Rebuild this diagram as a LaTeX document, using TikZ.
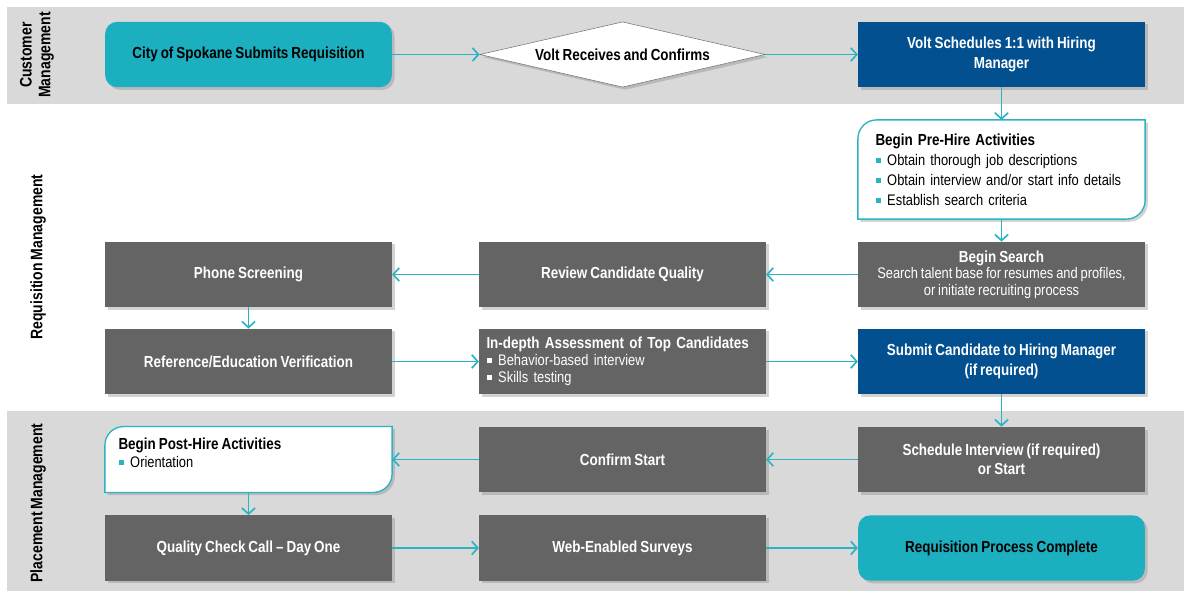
\documentclass[tikz,border=0pt]{standalone}
\usepackage{fontspec}
\setmainfont{Liberation Sans}[FakeStretch=0.84, WordSpace=0.8]
\usetikzlibrary{arrows.meta,shapes.geometric,shadows,positioning}

\definecolor{bandgray}{HTML}{D9D9D9}
\definecolor{voltteal}{HTML}{1CAFBF}
\definecolor{voltblue}{HTML}{02508F}
\definecolor{boxgray}{HTML}{646464}
\definecolor{flowteal}{HTML}{2BB3C3}

\newcommand{\sqbullet}[1]{\textcolor{#1}{\rule[1.8pt]{3.8pt}{3.8pt}}\hspace{5pt}}
\newcommand{\boxhead}{\fontsize{12}{12.5}\selectfont\bfseries}
\newcommand{\boxbody}{\fontsize{11.5}{12.5}\selectfont\mdseries}

\begin{document}
\begin{tikzpicture}[x=0.75pt, y=0.75pt,
  gray node/.style={rectangle, fill=boxgray, text=white, font=\fontsize{12}{14.5}\selectfont\bfseries, minimum width=215pt, minimum height=49pt, align=center, inner sep=2pt, drop shadow={opacity=0.35, shadow xshift=2pt, shadow yshift=-2pt}},
  blue node/.style={gray node, fill=voltblue},
  teal node/.style={gray node, fill=voltteal, text=black, rounded corners=9pt},
  open node/.style={rectangle, minimum width=215pt, inner sep=0pt},
  open line/.style={draw=flowteal, line width=1pt, fill=white, drop shadow={opacity=0.35, shadow xshift=2pt, shadow yshift=-2pt}},
  flow/.style={draw=flowteal, line width=1.25pt, -{Straight Barb[length=4.5pt,width=10pt]}},
  lane label/.style={rotate=90, font=\fontsize{12.5}{14}\selectfont\bfseries, align=center}]

\useasboundingbox (0,0) rectangle (1184,593);

% lanes
\fill[bandgray] (7,489) rectangle (1184,586);
\fill[bandgray] (7,2) rectangle (1184,182);

\node[lane label] (lane1) at (37,538) {Customer\\Management};
\node[lane label] (lane2) at (38,336) {Requisition Management};
\node[lane label] (lane3) at (38,90) {Placement Management};

% customer management
\node[teal node] (city) at (248.5,538.5) {City of Spokane Submits Requisition};
\node[diamond, aspect=4.4, draw=black!55, fill=white, minimum width=214pt, minimum height=49pt, inner sep=0pt, font=\fontsize{12}{15}\selectfont\bfseries, drop shadow={opacity=0.35, shadow xshift=2pt, shadow yshift=-2pt}] (receive) at (622.5,538.5) {Volt Receives and Confirms};
\node[blue node] (oneone) at (1001.5,538.5) {Volt Schedules 1:1 with Hiring\\Manager};

% requisition management
\node[open node, minimum height=74pt] (prehire) at (1001.5,423.5) {};
\draw[open line] ([yshift=-14pt]prehire.north west) arc[start angle=180, end angle=90, radius=14pt] -- (prehire.north east) -- ([yshift=14pt]prehire.south east) arc[start angle=0, end angle=-90, radius=14pt] -- (prehire.south west) -- cycle;
\node[anchor=west, align=left, text width=200pt, inner sep=3pt, font=\fontsize{11.5}{15}\selectfont] (prehire text) at ([xshift=10pt]prehire.west)
  {\textbf{\fontsize{12}{15}\selectfont Begin Pre-Hire Activities}\\
   \sqbullet{flowteal}Obtain thorough job descriptions\\
   \sqbullet{flowteal}Obtain interview and/or start info details\\
   \sqbullet{flowteal}Establish search criteria};

\node[gray node, font=\fontsize{12}{12.5}\selectfont\bfseries] (search) at (1001.5,318.5) {\boxhead Begin Search\\\boxbody Search talent base for resumes and profiles,\\\boxbody or initiate recruiting process};
\node[gray node] (review) at (622.5,318.5) {Review Candidate Quality};
\node[gray node] (phone) at (248.5,318.5) {Phone Screening};
\node[gray node] (refcheck) at (248.5,231.5) {Reference/Education Verification};
\node[gray node, align=left, text width=204pt, font=\fontsize{12}{13}\selectfont\bfseries] (assess) at (622.5,231.5)
  {\boxhead In-depth Assessment of Top Candidates\\
   \boxbody\sqbullet{white}Behavior-based interview\\
   \boxbody\sqbullet{white}Skills testing};
\node[blue node] (submit) at (1001.5,231.5) {Submit Candidate to Hiring Manager\\(if required)};

% placement management
\node[gray node] (interview) at (1001.5,133.5) {Schedule Interview (if required)\\or Start};
\node[gray node] (start) at (622.5,133.5) {Confirm Start};
\node[open node, minimum height=49pt] (posthire) at (248.5,133.5) {};
\draw[open line] ([yshift=-14pt]posthire.north west) arc[start angle=180, end angle=90, radius=14pt] -- (posthire.north east) -- ([yshift=14pt]posthire.south east) arc[start angle=0, end angle=-90, radius=14pt] -- (posthire.south west) -- cycle;
\node[anchor=north west, align=left, inner sep=3pt, font=\fontsize{11.5}{14}\selectfont] (posthire text) at ([xshift=7pt,yshift=-5pt]posthire.north west)
  {\textbf{\fontsize{12}{14}\selectfont Begin Post-Hire Activities}\\
   \sqbullet{flowteal}Orientation};
\node[gray node] (quality) at (248.5,45) {Quality Check Call -- Day One};
\node[gray node] (surveys) at (622.5,45) {Web-Enabled Surveys};
\node[teal node] (complete) at (1001.5,45) {Requisition Process Complete};

% flow
\path[] (city) [flow] edge (receive);
\path[] (receive) [flow] edge (oneone);
\path[] (oneone) [flow] edge (prehire);
\path[] (prehire) [flow] edge (search);
\path[] (search) [flow] edge (review);
\path[] (review) [flow] edge (phone);
\path[] (phone) [flow] edge (refcheck);
\path[] (refcheck) [flow] edge (assess);
\path[] (assess) [flow] edge (submit);
\path[] (submit) [flow] edge (interview);
\path[] (interview) [flow] edge (start);
\path[] (start) [flow] edge (posthire);
\path[] (posthire) [flow] edge (quality);
\path[] (quality) [flow] edge (surveys);
\path[] (surveys) [flow] edge (complete);
\end{tikzpicture}
\end{document}
